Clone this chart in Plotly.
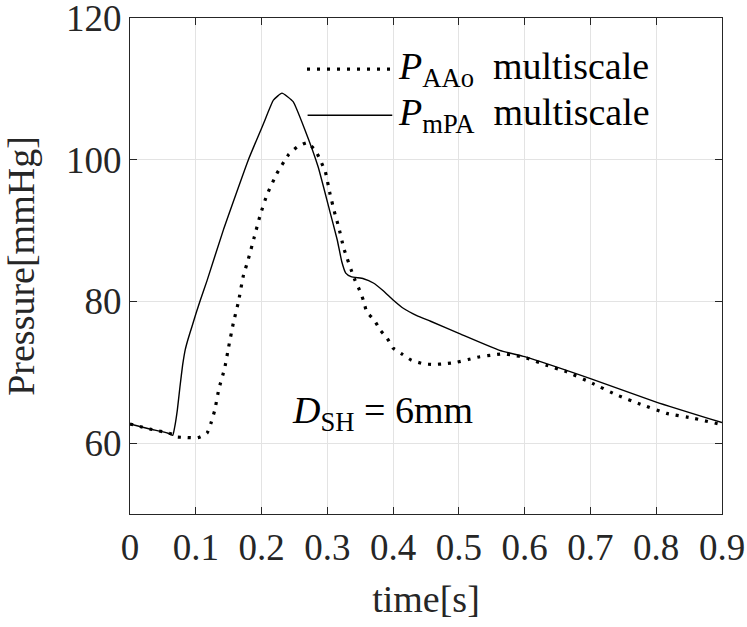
import plotly.graph_objects as go

# ---- data ----
t_mpa = [0, 0.03, 0.058, 0.065, 0.068, 0.072, 0.076, 0.080, 0.084, 0.088, 0.094, 0.101, 0.107,
         0.117, 0.142, 0.18, 0.203, 0.218, 0.231, 0.248, 0.266, 0.286, 0.303, 0.315, 0.322,
         0.328, 0.336, 0.355, 0.37, 0.385, 0.4, 0.416, 0.436, 0.457, 0.5, 0.562, 0.6, 0.7,
         0.8, 0.9]
p_mpa = [62.7, 62.0, 61.4, 61.1, 62.3, 64.7, 68.0, 71.0, 73.2, 74.6, 76.4, 78.5, 80.2,
         82.9, 90.1, 100.0, 105.1, 108.4, 109.4, 108.2, 104.2, 99.0, 93.0, 88.7, 85.6,
         84.0, 83.5, 83.2, 82.6, 81.5, 80.2, 79.0, 78.0, 77.2, 75.5, 73.1, 72.2, 69.1,
         65.8, 62.9]

t_aao = [0, 0.03, 0.063, 0.069, 0.086, 0.103, 0.117, 0.123, 0.129, 0.135, 0.144, 0.15, 0.157,
         0.165, 0.172, 0.18, 0.189, 0.198, 0.208, 0.223, 0.241, 0.254, 0.269, 0.282, 0.290,
         0.297, 0.304, 0.312, 0.317, 0.325, 0.33, 0.336, 0.342, 0.349, 0.355, 0.36, 0.371,
         0.381, 0.391, 0.4, 0.413, 0.428, 0.446, 0.461, 0.479, 0.496, 0.514, 0.532, 0.548,
         0.566, 0.583, 0.6, 0.633, 0.663, 0.704, 0.74, 0.776, 0.816, 0.857, 0.9]
p_aao = [62.7, 62.0, 61.3, 60.9, 60.8, 60.75, 61.4, 62.8, 64.7, 67.6, 70.6, 73.6, 76.9,
         80.0, 83.5, 86.0, 89.1, 92.2, 95.0, 98.0, 100.7, 101.8, 102.4, 101.3, 99.8,
         98.3, 95.2, 92.2, 90.6, 87.5, 86.1, 84.5, 83.0, 81.6, 80.1, 78.5, 77.4,
         75.9, 74.8, 73.4, 72.6, 71.7, 71.2, 71.1, 71.2, 71.4, 71.8, 72.2, 72.4,
         72.6, 72.4, 72.1, 71.0, 70.1, 68.4, 66.8, 65.5, 64.2, 63.5, 62.6]

x_ticks = [0, 0.1, 0.2, 0.3, 0.4, 0.5, 0.6, 0.7, 0.8, 0.9]
x_ticklabels = ["0", "0.1", "0.2", "0.3", "0.4", "0.5", "0.6", "0.7", "0.8", "0.9"]
y_ticks = [60, 80, 100, 120]
y_ticklabels = ["60", "80", "100", "120"]

name_aao = "<i>P</i><sub>AAo</sub>\u00a0\u00a0multiscale"
name_mpa = "<i>P</i><sub>mPA</sub>\u00a0\u00a0multiscale"
label_dsh = "<i>D</i><sub>SH</sub> = 6mm"

FONT = "Liberation Serif"
INK = "#262626"

fig = go.Figure()
fig.add_trace(go.Scatter(x=t_aao, y=p_aao, mode="lines", name=name_aao, showlegend=False,
                         line=dict(color="black", width=3.2, dash="3px,7px", shape="spline",
                                   smoothing=0.4)))
fig.add_trace(go.Scatter(x=t_mpa, y=p_mpa, mode="lines", name=name_mpa, showlegend=False,
                         line=dict(color="black", width=1.4, shape="spline", smoothing=0.4)))

# custom legend (long line samples like the original)
fig.add_shape(type="line", xref="paper", yref="paper", x0=0.299, x1=0.444, y0=0.897, y1=0.897,
              line=dict(color="black", width=3.2, dash="3px,7px"))
fig.add_shape(type="line", xref="paper", yref="paper", x0=0.300, x1=0.443, y0=0.804, y1=0.804,
              line=dict(color="black", width=1.4))
fig.add_annotation(xref="paper", yref="paper", x=0.450, y=0.898, text=name_aao, showarrow=False,
                   xanchor="left", yanchor="middle", font=dict(family=FONT, size=38, color="black"))
fig.add_annotation(xref="paper", yref="paper", x=0.450, y=0.805, text=name_mpa, showarrow=False,
                   xanchor="left", yanchor="middle", font=dict(family=FONT, size=38, color="black"))

fig.add_annotation(x=0.384, y=64.2, text=label_dsh, showarrow=False, xanchor="center",
                   yanchor="middle", font=dict(family=FONT, size=38, color="black"))

axis_common = dict(showline=True, linecolor=INK, linewidth=1.2, mirror="allticks",
                   ticks="inside", ticklen=7, tickcolor=INK, tickwidth=1.2,
                   showgrid=True, gridcolor="#e3e3e3", gridwidth=1, zeroline=False,
                   automargin=False, ticklabeloverflow="allow",
                   tickfont=dict(family=FONT, size=37, color=INK))

fig.update_xaxes(range=[0, 0.9], tickvals=x_ticks, ticktext=x_ticklabels,
                 title=dict(text="time[s]", font=dict(family=FONT, size=38, color=INK), standoff=18),
                 **axis_common)
fig.update_yaxes(range=[50, 120], tickvals=y_ticks, ticktext=y_ticklabels,
                 title=dict(text="Pressure[mmHg]", font=dict(family=FONT, size=38, color=INK), standoff=22),
                 **axis_common)

fig.update_layout(width=747, height=627, margin=dict(l=130, r=25, t=18, b=113),
                  plot_bgcolor="white", paper_bgcolor="white", showlegend=False)

# remove the browser's default 8px body margin so the figure fills the window exactly
fig.write_html("out.html", config={"displayModeBar": False},
               post_script="document.body.style.margin='0';document.body.style.overflow='hidden';")
